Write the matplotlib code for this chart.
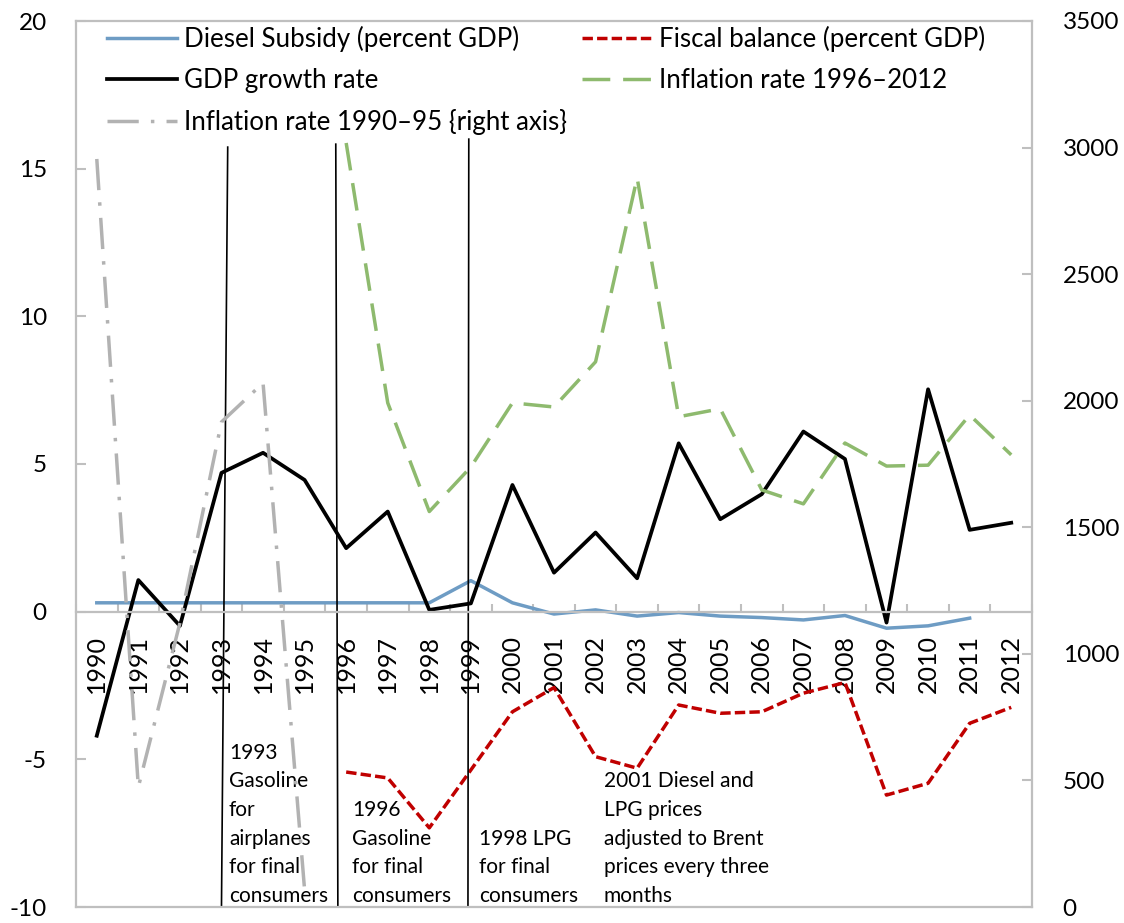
import numpy as np
import matplotlib.pyplot as plt

plt.rcParams['font.family'] = ['Lato', 'DejaVu Sans']
plt.rcParams['axes.unicode_minus'] = False

years = [str(y) for y in range(1990, 2013)]
nan = np.nan

diesel_subsidy = [0.3, 0.3, 0.3, 0.3, 0.3, 0.3, 0.3, 0.3, 0.3, 1.05, 0.3, -0.08,
                  0.06, -0.15, -0.03, -0.15, -0.2, -0.28, -0.13, -0.56, -0.48, -0.22, nan]
gdp_growth = [-4.2, 1.07, -0.48, 4.7, 5.38, 4.46, 2.15, 3.39, 0.06, 0.28, 4.29, 1.32,
              2.68, 1.13, 5.7, 3.13, 3.98, 6.1, 5.17, -0.37, 7.53, 2.77, 3.01]
fiscal_balance = [nan, nan, nan, nan, nan, nan, -5.43, -5.63, -7.32, -5.36, -3.39, -2.57,
                  -4.91, -5.3, -3.16, -3.44, -3.39, -2.76, -2.4, -6.21, -5.81, -3.78, -3.24]
inflation_96_12 = [nan, nan, nan, nan, nan, nan, 15.87, 7.07, 3.39, 4.9, 7.07, 6.93,
                   8.46, 14.69, 6.6, 6.87, 4.12, 3.65, 5.71, 4.93, 4.96, 6.66, 5.31]
inflation_90_95 = [2955, 474, 1122, 1916, 2070, 67]

# reform markers: (x top, x bottom, y top) in category units
reform_lines = [(3.15, 3.0, 15.73), (5.75, 5.8, 15.83), (8.95, 8.93, 16.0)]
notes = [
    (3.18, "1993\nGasoline\nfor\nairplanes\nfor final\nconsumers"),
    (6.14, "1996\nGasoline\nfor final\nconsumers"),
    (9.19, "1998 LPG\nfor final\nconsumers"),
    (12.2, "2001 Diesel and\nLPG prices\nadjusted to Brent\nprices every three\nmonths"),
]

grey = "#BFBFBF"
x = np.arange(len(years))

fig = plt.figure(figsize=(11.24, 9.23), dpi=100)
ax = fig.add_axes([76/1124, 16/923, 956/1124, 886/923])
ax2 = ax.twinx()

lw = 2.5
l1, = ax.plot(x, diesel_subsidy, color="#6E9CC4", lw=lw, label="Diesel Subsidy (percent GDP)")
l2, = ax.plot(x, gdp_growth, color="black", lw=lw + 0.2, label="GDP growth rate")
l4, = ax.plot(x, fiscal_balance, color="#C00000", lw=lw, dashes=(3, 1.2),
              label="Fiscal balance (percent GDP)")
l5, = ax.plot(x, inflation_96_12, color="#8EBA6E", lw=lw, dashes=(8, 3.7),
              label="Inflation rate 1996\u20132012")
l3, = ax2.plot(x[:len(inflation_90_95)], inflation_90_95, color="#B2B2B2", lw=lw,
               dashes=(9, 3.5, 1, 3.5), label="Inflation rate 1990\u201395 {right axis}")

for xt, xb, yt in reform_lines:
    ax.plot([xt, xb], [yt, -10], color="black", lw=1.2)
for xn, txt in notes:
    ax.text(xn, -9.83, txt, fontsize=15, va="baseline", ha="left", linespacing=1.54)

ax.set_xlim(-0.5, len(years) - 0.5)
ax.set_ylim(-10, 20)
ax.set_yticks(np.arange(-10, 21, 5))
ax2.set_ylim(0, 3500)
ax2.set_yticks(np.arange(0, 3501, 500))

ax.set_xticks(x)
ax.set_xticklabels(years)
ax.set_xticks(np.arange(-0.5, len(years)), minor=True)
ax.tick_params(axis="x", which="major", length=0, pad=17, labelsize=18, labelrotation=90)
ax.tick_params(axis="x", which="minor", direction="in", length=6, color=grey, width=1.5)
ax.tick_params(axis="y", direction="in", length=7, color=grey, width=1.5, pad=21, labelsize=17.5)
ax2.tick_params(axis="y", direction="in", length=7, color=grey, width=1.5, pad=22, labelsize=17.5)

ax.spines["bottom"].set_position(("data", 0))
for sp in ax.spines.values():
    sp.set_color(grey)
    sp.set_linewidth(1.6)
ax.spines["top"].set_visible(False)
ax.spines["right"].set_visible(False)
for sp in ax2.spines.values():
    sp.set_color(grey)
    sp.set_linewidth(1.6)
ax2.spines["left"].set_visible(False)

leg_kw = dict(frameon=False, fontsize=18.6, handlelength=2.7, handletextpad=0.28,
              labelspacing=0.62, borderpad=0, borderaxespad=0, loc="upper left",
              bbox_transform=fig.transFigure)
leg1 = ax2.legend(handles=[l1, l2, l3], bbox_to_anchor=(107/1124, 1 - 26/923), **leg_kw)
ax2.add_artist(leg1)
ax2.legend(handles=[l4, l5], bbox_to_anchor=(582/1124, 1 - 26/923), **leg_kw)

fig.savefig("out.png", dpi=100)
